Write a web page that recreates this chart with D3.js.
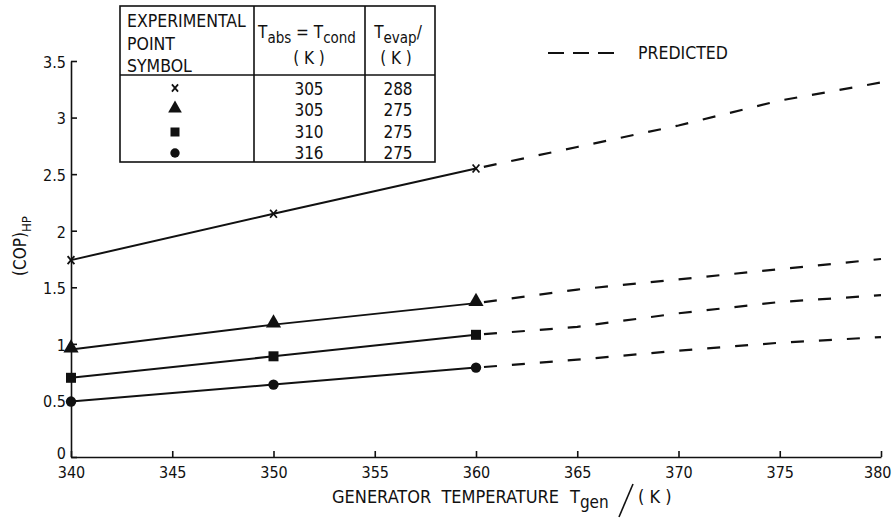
<!DOCTYPE html>
<html>
<head>
<meta charset="utf-8">
<script src="https://cdn.jsdelivr.net/npm/d3@7"></script>
<style>
  body { margin: 0; background: #fff; }
  svg { display: block; }
  text { font-family: "DejaVu Sans Condensed", "Liberation Sans Narrow", sans-serif; fill: #111; white-space: pre; }
</style>
</head>
<body>
<svg id="chart" width="892" height="526"></svg>
<script>
// measured points (solid) and predicted extension (dashed)
var tgenMeasured = [340, 350, 360];
var tgenPredicted = [360, 365, 370, 375, 380];

var copCrossMeasured = [1.74, 2.15, 2.55];
var copCrossPredicted = [2.55, 2.74, 2.93, 3.15, 3.31];
var copTriangleMeasured = [0.95, 1.17, 1.36];
var copTrianglePredicted = [1.36, 1.48, 1.57, 1.66, 1.75];
var copSquareMeasured = [0.70, 0.89, 1.08];
var copSquarePredicted = [1.08, 1.15, 1.27, 1.37, 1.43];
var copCircleMeasured = [0.49, 0.64, 0.79];
var copCirclePredicted = [0.79, 0.86, 0.94, 1.01, 1.06];

var xTicks = [340, 345, 350, 355, 360, 365, 370, 375, 380];
var yTicks = [0, 0.5, 1, 1.5, 2, 2.5, 3, 3.5];

// legend table
var tableSymbols = ['cross', 'triangle', 'square', 'circle'];
var tableTabs = [305, 305, 310, 316];
var tableTevap = [288, 275, 275, 275];

var svg = d3.select('#chart');
var plotL = 71, plotR = 881, plotT = 61, plotB = 457;

var x = d3.scaleLinear().domain([340, 380]).range([plotL, plotR]);
var y = d3.scaleLinear().domain([0, 3.5]).range([plotB, plotT]);

// axes, ticks pointing inward
var gx = svg.append('g').attr('transform', 'translate(0,' + plotB + ')')
  .call(d3.axisBottom(x).tickValues(xTicks).tickSizeInner(-6).tickSizeOuter(0).tickPadding(10));
var gy = svg.append('g').attr('transform', 'translate(' + plotL + ',0)')
  .call(d3.axisLeft(y).tickValues(yTicks).tickSizeInner(-6).tickSizeOuter(0).tickPadding(5)
    .tickFormat(function(d) { return String(d); }));

[gx, gy].forEach(function(g) {
  g.select('.domain').attr('stroke', '#111').attr('stroke-width', 1.6);
  g.selectAll('.tick line').attr('stroke', '#111').attr('stroke-width', 1.6);
  g.selectAll('.tick text').style('font-size', '16px').attr('fill', '#111');
});
gy.selectAll('.tick text').attr('dy', function(d) { return d === 0 ? '0.1em' : '0.4em'; });
// last x label sits against the right edge
gx.selectAll('.tick text').filter(function(d) { return d === 380; })
  .attr('text-anchor', 'end').attr('x', 10);

var line = d3.line()
  .x(function(d) { return x(d[0]); })
  .y(function(d) { return y(d[1]); });

var series = [
  { sym: 'cross', m: copCrossMeasured, p: copCrossPredicted },
  { sym: 'triangle', m: copTriangleMeasured, p: copTrianglePredicted },
  { sym: 'square', m: copSquareMeasured, p: copSquarePredicted },
  { sym: 'circle', m: copCircleMeasured, p: copCirclePredicted }
];

series.forEach(function(s) {
  var solid = d3.zip(tgenMeasured, s.m);
  var dashed = d3.zip(tgenPredicted, s.p);
  svg.append('path').datum(solid).attr('d', line)
    .attr('fill', 'none').attr('stroke', '#111').attr('stroke-width', 2);
  svg.append('path').datum(dashed).attr('d', line)
    .attr('fill', 'none').attr('stroke', '#111').attr('stroke-width', 2.2)
    .attr('stroke-dasharray', '13,15').attr('stroke-dashoffset', -8);
  solid.forEach(function(d) {
    drawSymbol(svg, s.sym, x(d[0]), y(d[1]), 1);
  });
});

function drawSymbol(g, sym, cx, cy, k) {
  if (sym === 'cross') {
    var r = 4 * k;
    g.append('path')
      .attr('d', 'M' + (cx - r * 0.85) + ',' + (cy - r) + 'L' + (cx + r * 0.85) + ',' + (cy + r) +
                 'M' + (cx + r * 0.85) + ',' + (cy - r) + 'L' + (cx - r * 0.85) + ',' + (cy + r))
      .attr('stroke', '#111').attr('stroke-width', 1.8);
  } else {
    var t = { triangle: d3.symbolTriangle, square: d3.symbolSquare, circle: d3.symbolCircle }[sym];
    var size = { triangle: 100, square: 100, circle: 85 }[sym] * k * k;
    g.append('path')
      .attr('d', d3.symbol().type(t).size(size)())
      .attr('transform', 'translate(' + cx + ',' + (cy + (sym === 'triangle' ? -1.5 : 0)) + ')')
      .attr('fill', '#111');
  }
}

// axis titles
var yt = svg.append('text')
  .attr('transform', 'translate(26,246) rotate(-90)')
  .attr('text-anchor', 'middle')
  .style('font-size', '17px');
yt.append('tspan').text('(COP)');
yt.append('tspan').attr('dy', 5).style('font-size', '13px').text('HP');

svg.append('text').attr('x', 332).attr('y', 503).style('font-size', '18px').text('GENERATOR  TEMPERATURE');
var xt = svg.append('text').attr('x', 570).attr('y', 503).style('font-size', '18px');
xt.append('tspan').text('T');
xt.append('tspan').attr('dy', 5).style('font-size', '17px').text('gen');
svg.append('path').attr('d', 'M619,517L633,484').attr('stroke', '#111').attr('stroke-width', 1.6);
svg.append('text').attr('x', 638).attr('y', 503).style('font-size', '18px').text('( K )');

// predicted legend
svg.append('line').attr('x1', 548).attr('x2', 614).attr('y1', 53).attr('y2', 53)
  .attr('stroke', '#111').attr('stroke-width', 2).attr('stroke-dasharray', '16,9');
svg.append('text').attr('x', 638).attr('y', 59).style('font-size', '17.5px').text('PREDICTED');

// legend table
var tb = svg.append('g');
var tL = 120, tR = 435, tT = 6, tB = 162, tH = 75, c1 = 254, c2 = 365;
tb.append('rect').attr('x', tL).attr('y', tT).attr('width', tR - tL).attr('height', tB - tT)
  .attr('fill', '#fff').attr('stroke', '#111').attr('stroke-width', 1.6);
tb.append('line').attr('x1', tL).attr('x2', tR).attr('y1', tH).attr('y2', tH).attr('stroke', '#111').attr('stroke-width', 1.6);
[c1, c2].forEach(function(cx) {
  tb.append('line').attr('x1', cx).attr('x2', cx).attr('y1', tT).attr('y2', tB).attr('stroke', '#111').attr('stroke-width', 1.6);
});
['EXPERIMENTAL', 'POINT', 'SYMBOL'].forEach(function(t, i) {
  tb.append('text').attr('x', 127).attr('y', 27 + i * 22.5).style('font-size', '17.5px').text(t);
});
var h1 = tb.append('text').attr('x', 307).attr('y', 38).attr('text-anchor', 'middle').style('font-size', '17px');
h1.append('tspan').text('T');
h1.append('tspan').attr('dy', 5).style('font-size', '15px').text('abs');
h1.append('tspan').attr('dy', -5).text(' = T');
h1.append('tspan').attr('dy', 5).style('font-size', '15px').text('cond');
tb.append('text').attr('x', 309).attr('y', 64).attr('text-anchor', 'middle').style('font-size', '17px').text('( K )');
var h2 = tb.append('text').attr('x', 398).attr('y', 38).attr('text-anchor', 'middle').style('font-size', '17px');
h2.append('tspan').text('T');
h2.append('tspan').attr('dy', 5).style('font-size', '15px').text('evap');
h2.append('tspan').attr('dy', -5).text('/');
tb.append('text').attr('x', 396).attr('y', 64).attr('text-anchor', 'middle').style('font-size', '17px').text('( K )');

var rowY = [89, 110, 132, 153];
tableSymbols.forEach(function(sym, i) {
  drawSymbol(tb, sym, 175, rowY[i] - (sym === 'cross' ? 1 : 0), 0.9);
  tb.append('text').attr('x', 309).attr('y', rowY[i] + 6).attr('text-anchor', 'middle')
    .style('font-size', '17px').text(tableTabs[i]);
  tb.append('text').attr('x', 398).attr('y', rowY[i] + 6).attr('text-anchor', 'middle')
    .style('font-size', '17px').text(tableTevap[i]);
});
</script>
</body>
</html>
